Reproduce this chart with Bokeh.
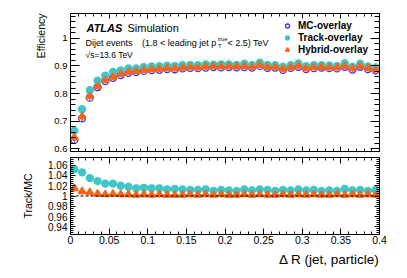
import numpy as np
from bokeh.plotting import figure
from bokeh.layouts import column
from bokeh.models import (Range1d, LinearAxis, FixedTicker, CustomJSTickFormatter,
                          Span, Label, Legend, LegendItem, ColumnDataSource, Title)
from bokeh.embed import file_html
from bokeh.resources import INLINE

# ---------------- data ----------------
dr = [0.005, 0.015, 0.025, 0.035, 0.045, 0.055, 0.065, 0.075, 0.085, 0.095,
      0.105, 0.115, 0.125, 0.135, 0.145, 0.155, 0.165, 0.175, 0.185, 0.195,
      0.205, 0.215, 0.225, 0.235, 0.245, 0.255, 0.265, 0.275, 0.285, 0.295,
      0.305, 0.315, 0.325, 0.335, 0.345, 0.355, 0.365, 0.375, 0.385, 0.395]
dr_half = [0.005] * 40

mc_eff = [0.632, 0.710, 0.785, 0.823, 0.845, 0.857, 0.867, 0.875, 0.878, 0.882,
          0.885, 0.886, 0.889, 0.888, 0.891, 0.893, 0.892, 0.894, 0.896, 0.895,
          0.896, 0.895, 0.896, 0.894, 0.900, 0.893, 0.894, 0.886, 0.893, 0.897,
          0.889, 0.892, 0.894, 0.892, 0.891, 0.897, 0.887, 0.897, 0.889, 0.884]
track_eff = [0.665, 0.743, 0.812, 0.847, 0.865, 0.878, 0.884, 0.891, 0.891, 0.896,
             0.898, 0.899, 0.901, 0.900, 0.903, 0.904, 0.903, 0.906, 0.905, 0.906,
             0.906, 0.904, 0.908, 0.904, 0.912, 0.904, 0.903, 0.897, 0.903, 0.909,
             0.899, 0.903, 0.903, 0.902, 0.900, 0.910, 0.897, 0.908, 0.898, 0.895]
hybrid_eff = [0.641, 0.716, 0.790, 0.826, 0.848, 0.860, 0.870, 0.878, 0.880, 0.885,
              0.887, 0.889, 0.891, 0.890, 0.893, 0.896, 0.894, 0.897, 0.898, 0.898,
              0.898, 0.897, 0.899, 0.896, 0.903, 0.895, 0.896, 0.889, 0.895, 0.900,
              0.891, 0.895, 0.896, 0.894, 0.894, 0.899, 0.890, 0.899, 0.892, 0.886]
eff_err = [0.012, 0.011, 0.010, 0.009, 0.009, 0.008, 0.008, 0.008, 0.008, 0.008,
           0.008, 0.008, 0.008, 0.008, 0.008, 0.008, 0.008, 0.008, 0.008, 0.008,
           0.008, 0.008, 0.008, 0.008, 0.008, 0.008, 0.008, 0.008, 0.008, 0.008,
           0.008, 0.008, 0.008, 0.008, 0.008, 0.008, 0.008, 0.008, 0.008, 0.008]

track_ratio = [1.052, 1.046, 1.035, 1.029, 1.024, 1.024, 1.020, 1.018, 1.015, 1.016,
               1.015, 1.015, 1.013, 1.014, 1.013, 1.012, 1.012, 1.013, 1.010, 1.012,
               1.011, 1.010, 1.013, 1.011, 1.013, 1.012, 1.010, 1.012, 1.011, 1.013,
               1.011, 1.012, 1.010, 1.011, 1.010, 1.014, 1.011, 1.012, 1.010, 1.012]
hybrid_ratio = [1.015, 1.009, 1.007, 1.004, 1.003, 1.004, 1.003, 1.003, 1.002, 1.003,
                1.002, 1.003, 1.002, 1.002, 1.002, 1.003, 1.002, 1.003, 1.002, 1.003,
                1.002, 1.002, 1.003, 1.002, 1.003, 1.002, 1.002, 1.003, 1.002, 1.003,
                1.002, 1.003, 1.002, 1.002, 1.003, 1.002, 1.003, 1.002, 1.003, 1.002]
ratio_err = [0.007, 0.007, 0.006, 0.006, 0.006, 0.006, 0.006, 0.006, 0.006, 0.006,
             0.006, 0.006, 0.006, 0.006, 0.006, 0.006, 0.006, 0.006, 0.006, 0.006,
             0.006, 0.006, 0.006, 0.006, 0.006, 0.006, 0.006, 0.006, 0.006, 0.006,
             0.006, 0.006, 0.006, 0.006, 0.006, 0.006, 0.006, 0.006, 0.006, 0.006]

x_major = [0, 0.05, 0.1, 0.15, 0.2, 0.25, 0.3, 0.35, 0.4]
eff_major = [0.6, 0.7, 0.8, 0.9, 1.0]
ratio_major = [0.94, 0.96, 0.98, 1.0, 1.02, 1.04, 1.06]

# ---------------- style ----------------
FONT = "Liberation Sans"
CYAN = "#3fc6c8"
ORANGE = "#fa6414"
BLUE = "#3434ff"

x_minor = list(np.round(np.arange(0, 0.4001, 0.01), 4))
eff_minor = list(np.round(np.arange(0.52, 1.10, 0.02), 4))
ratio_minor = list(np.round(np.arange(0.92, 1.08, 0.004), 4))

fmt = CustomJSTickFormatter(code="return Number(tick.toFixed(3)).toString();")
blank = CustomJSTickFormatter(code="return '';")


def add_axis(p, side, major, minor, labels, tick_major, tick_minor, font_size="10px", standoff=3):
    ax = LinearAxis(ticker=FixedTicker(ticks=major, minor_ticks=minor),
                    formatter=fmt if labels else blank)
    ax.major_tick_in = int(tick_major)
    ax.major_tick_out = 0
    ax.minor_tick_in = int(tick_minor)
    ax.minor_tick_out = 0
    ax.axis_line_color = "black"
    ax.major_tick_line_color = "black"
    ax.minor_tick_line_color = "black"
    if labels:
        ax.major_label_text_font = FONT
        ax.major_label_text_font_size = font_size
        ax.major_label_text_color = "black"
        ax.major_label_standoff = standoff
    else:
        ax.major_label_text_font_size = "0px"
        ax.major_label_standoff = 0
    p.add_layout(ax, side)
    return ax


def set_axis_title(ax, text, size, standoff):
    ax.axis_label = text
    ax.axis_label_text_font = FONT
    ax.axis_label_text_font_size = size
    ax.axis_label_text_font_style = "normal"
    ax.axis_label_text_color = "black"
    ax.axis_label_standoff = standoff


def add_title(p, side, text, size, align, standoff, offset=0):
    p.add_layout(Title(text=text, align=align, text_font=FONT, text_font_size=size,
                       text_font_style="normal", text_color="black",
                       standoff=standoff, offset=offset), side)


def xs_pm(x, h):
    return [a - b for a, b in zip(x, h)], [a + b for a, b in zip(x, h)]


# ---------------- top panel ----------------
p1 = figure(width=399, height=154, x_range=Range1d(0, 0.4), y_range=Range1d(0.59, 1.09),
            output_backend="svg", toolbar_location=None,
            x_axis_location=None, y_axis_location=None,
            min_border_left=70, min_border_right=20, min_border_top=13, min_border_bottom=3)
p1.grid.grid_line_color = None
p1.outline_line_color = "black"
p1.background_fill_color = "white"
p1.border_fill_color = "white"

add_axis(p1, "left", eff_major, eff_minor, True, 9, 5, "9.5px", 3)
add_axis(p1, "right", eff_major, eff_minor, False, 9, 5)
add_axis(p1, "above", x_major, x_minor, False, 5, 3)
add_axis(p1, "below", x_major, x_minor, False, 5, 3)
add_title(p1, "left", "Efficiency", "10.5px", "right", 10)


def draw_series(p, y, yerr, color, marker, fill, size=7):
    src = ColumnDataSource(dict(
        x=dr, y=y,
        x0=xs_pm(dr, dr_half)[0], x1=xs_pm(dr, dr_half)[1],
        y0=[a - b for a, b in zip(y, yerr)], y1=[a + b for a, b in zip(y, yerr)]))
    p.segment(x0="x", y0="y0", x1="x", y1="y1", source=src, line_color=color, line_width=1)
    p.segment(x0="x0", y0="y", x1="x1", y1="y", source=src, line_color=color, line_width=1)
    r = p.scatter(x="x", y="y", source=src, marker=marker, size=size,
                  line_color=color, line_width=1.3,
                  fill_color=color if fill else None)
    return r


r_mc = draw_series(p1, mc_eff, eff_err, BLUE, "circle", False, 7)
r_tr = draw_series(p1, track_eff, eff_err, CYAN, "circle", True, 7)
r_hy = draw_series(p1, hybrid_eff, eff_err, ORANGE, "triangle", True, 7.5)

legend = Legend(items=[LegendItem(label="MC-overlay", renderers=[r_mc]),
                       LegendItem(label="Track-overlay", renderers=[r_tr]),
                       LegendItem(label="Hybrid-overlay", renderers=[r_hy])],
                location=(212, 96), orientation="vertical", padding=0, margin=0,
                spacing=1, glyph_width=10, glyph_height=11, label_height=11,
                label_standoff=6, label_text_font=FONT, label_text_font_style="bold",
                label_text_font_size="10px", label_text_color="black",
                background_fill_alpha=0, border_line_color=None)
p1.add_layout(legend)


def px2d(px, py):
    return (px - 70) / 772.5, 1 - (py - 38) / 275.0


def add_text(p, px, py, text, size, style="normal", align="left", conv=px2d, angle=0):
    x, y = conv(px, py)
    p.add_layout(Label(x=x, y=y, text=text, text_font=FONT, text_font_size=size,
                       text_font_style=style, text_align=align, text_baseline="middle",
                       text_color="black", angle=angle))


add_text(p1, 86, 28, "ATLAS", "11px", "bold italic")
add_text(p1, 127, 28, "Simulation", "11px")
add_text(p1, 85, 42.5, "Dijet events", "9px")
add_text(p1, 141.5, 42.5, "(1.8 < leading jet p", "9px")
add_text(p1, 217.5, 38.5, "true", "5.5px")
add_text(p1, 217.5, 46, "T", "6px")
add_text(p1, 227, 42.5, "< 2.5) TeV", "9px")
add_text(p1, 85, 54.5, "\u221As=13.6 TeV", "8.5px")

# ---------------- ratio panel ----------------
p2 = figure(width=399, height=116, x_range=p1.x_range, y_range=Range1d(0.925, 1.075),
            output_backend="svg", toolbar_location=None,
            x_axis_location=None, y_axis_location=None,
            min_border_left=70, min_border_right=20, min_border_top=3, min_border_bottom=36)
p2.grid.grid_line_color = None
p2.outline_line_color = "black"
p2.background_fill_color = "white"
p2.border_fill_color = "white"

ax_ratio = add_axis(p2, "left", ratio_major, ratio_minor, True, 5, 3, "10px", 3)
add_axis(p2, "right", ratio_major, ratio_minor, False, 5, 3)
add_axis(p2, "above", x_major, x_minor, False, 6, 3)
add_axis(p2, "below", x_major, x_minor, True, 6, 3, "10.5px", 1)
set_axis_title(ax_ratio, "Track/MC", "10.5px", 11)
add_title(p2, "below", "\u0394 R (jet, particle)", "13.5px", "right", 6)

p2.add_layout(Span(location=1.0, dimension="width", line_color="black",
                   line_dash="3 2", line_width=1.2))

draw_series(p2, track_ratio, ratio_err, CYAN, "circle", True, 7)
draw_series(p2, hybrid_ratio, ratio_err, ORANGE, "triangle", True, 7.5)

layout = column(p1, p2, spacing=0)
open("out.html", "w").write(file_html(layout, INLINE))
